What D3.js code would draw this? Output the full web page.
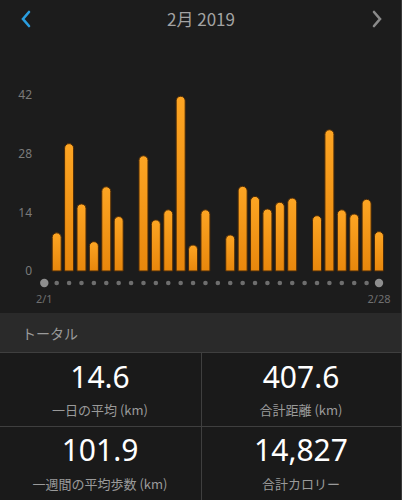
<!DOCTYPE html>
<html>
<head>
<meta charset="utf-8">
<script src="https://cdn.jsdelivr.net/npm/d3@7"></script>
<style>
body{margin:0;background:#1c1c1c;}
svg{display:block;}
text{font-family:"Noto Sans CJK JP","Noto Sans",sans-serif;}
</style>
</head>
<body>
<div class="visualization"></div>
<script>
//data
const days = d3.range(1, 29);
const distance = [0, 9.1, 30.4, 16.0, 7.0, 20.1, 13.0, 0, 27.5, 12.2, 14.6, 41.7, 6.2, 14.6,
                  0, 8.6, 20.2, 17.8, 14.8, 16.4, 17.4, 0, 13.2, 33.7, 14.6, 13.6, 17.1, 9.4];
const yTicks = [0, 14, 28, 42];
const title = "2月 2019";
const sectionLabel = "トータル";
const statValues = ["14.6", "407.6", "101.9", "14,827"];
const statLabels = ["一日の平均 (km)", "合計距離 (km)", "一週間の平均歩数 (km)", "合計カロリー"];

//constants
const width = 402;
const height = 500;

const svg = d3.select(".visualization")
		.append("svg")
		.attr("width", width)
		.attr("height", height);

const defs = svg.append("defs");
const grad = defs.append("linearGradient")
		.attr("id", "barGrad")
		.attr("x1", 0).attr("y1", 0).attr("x2", 0).attr("y2", 1);
grad.append("stop").attr("offset", "0%").attr("stop-color", "#fda523");
grad.append("stop").attr("offset", "100%").attr("stop-color", "#e8870c");

svg.append("rect").attr("width", width).attr("height", height).attr("fill", "#1c1c1c");

//header
svg.append("text")
		.attr("x", width / 2)
		.attr("y", 26)
		.attr("text-anchor", "middle")
		.attr("fill", "#a3a3a3")
		.style("font-size", "17px")
		.text(title);
svg.append("path")
		.attr("d", "M29,12 L23,19 L29,26")
		.attr("fill", "none")
		.attr("stroke", "#2a9ee0")
		.attr("stroke-width", 2.6)
		.attr("stroke-linecap", "round");
svg.append("path")
		.attr("d", "M374,12 L380,19 L374,26")
		.attr("fill", "none")
		.attr("stroke", "#8a8a8a")
		.attr("stroke-width", 2.6)
		.attr("stroke-linecap", "round");

//scales
const x = d3.scalePoint().domain(days).range([44.3, 379]);
const y = d3.scaleLinear().domain([0, 42]).range([271, 95]);

const yAxis = svg.append("g")
		.attr("transform", "translate(32,0)")
		.call(d3.axisLeft(y).tickValues(yTicks).tickSize(0).tickPadding(0));
yAxis.select(".domain").remove();
yAxis.selectAll("text")
		.attr("fill", "#7a7a7a")
		.style("font-size", "12px")
		.style("font-family", "'Noto Sans', sans-serif");

//bars with rounded tops, skip empty days
const barW = 9;
const r = barW / 2;
const barData = days.map((day, i) => ({day, value: distance[i]})).filter(d => d.value > 0);
function barPath(d) {
	const cx = x(d.day);
	const y0 = y(0);
	const y1 = y(d.value);
	const x0 = cx - r, x1 = cx + r;
	return `M${x0},${y0} L${x0},${y1 + r} A${r},${r} 0 0 1 ${x1},${y1 + r} L${x1},${y0} Z`;
}
svg.append("g")
		.selectAll("path")
		.data(barData)
		.enter()
		.append("path")
		.attr("d", barPath)
		.attr("fill", "url(#barGrad)")
		.attr("stroke", "#4a2a08")
		.attr("stroke-width", 1);

//day dots
svg.append("g")
		.selectAll("circle")
		.data(days)
		.enter()
		.append("circle")
		.attr("cx", d => x(d))
		.attr("cy", 283)
		.attr("r", (d, i) => (i === 0 || i === days.length - 1) ? 4.2 : 2.3)
		.attr("fill", (d, i) => (i === 0 || i === days.length - 1) ? "#8e8e8e" : "#6e6e6e");

svg.append("g")
		.selectAll("text")
		.data([days[0], days[days.length - 1]])
		.enter()
		.append("text")
		.attr("x", d => x(d))
		.attr("y", 303)
		.attr("text-anchor", "middle")
		.attr("fill", "#6f6f6f")
		.style("font-size", "11px")
		.style("font-family", "'Noto Sans', sans-serif")
		.text(d => "2/" + d);

//totals section
svg.append("rect").attr("x", 0).attr("y", 313).attr("width", width).attr("height", 39).attr("fill", "#2a2a2a");
svg.append("text")
		.attr("x", 22)
		.attr("y", 339)
		.attr("fill", "#9a9a9a")
		.style("font-size", "14px")
		.text(sectionLabel);

svg.append("rect").attr("x", 0).attr("y", 352).attr("width", width).attr("height", height - 352).attr("fill", "#1a1a1a");
const lineColor = "#3f3f3f";
svg.append("line").attr("x1", 0).attr("x2", width).attr("y1", 352.5).attr("y2", 352.5).attr("stroke", lineColor);
svg.append("line").attr("x1", 0).attr("x2", width).attr("y1", 426.5).attr("y2", 426.5).attr("stroke", lineColor);
svg.append("line").attr("x1", 201.5).attr("x2", 201.5).attr("y1", 352).attr("y2", height).attr("stroke", lineColor);
svg.append("line").attr("x1", 401.5).attr("x2", 401.5).attr("y1", 0).attr("y2", height).attr("stroke", "#3a3a3a");

const colCenters = [100, 301];
const rowBase = [388, 461];
const labelBase = [415, 489];
const cell = svg.append("g")
		.selectAll("g")
		.data(statValues)
		.enter()
		.append("g")
		.attr("transform", (d, i) => `translate(${colCenters[i % 2]},0)`);
cell.append("text")
		.attr("y", (d, i) => rowBase[Math.floor(i / 2)])
		.attr("text-anchor", "middle")
		.attr("fill", "#ffffff")
		.style("font-size", "30px")
		.style("font-family", "'Noto Sans', sans-serif")
		.text(d => d);
cell.append("text")
		.attr("y", (d, i) => labelBase[Math.floor(i / 2)])
		.attr("text-anchor", "middle")
		.attr("fill", "#9a9a9a")
		.style("font-size", "13px")
		.text((d, i) => statLabels[i]);
</script>
</body>
</html>
